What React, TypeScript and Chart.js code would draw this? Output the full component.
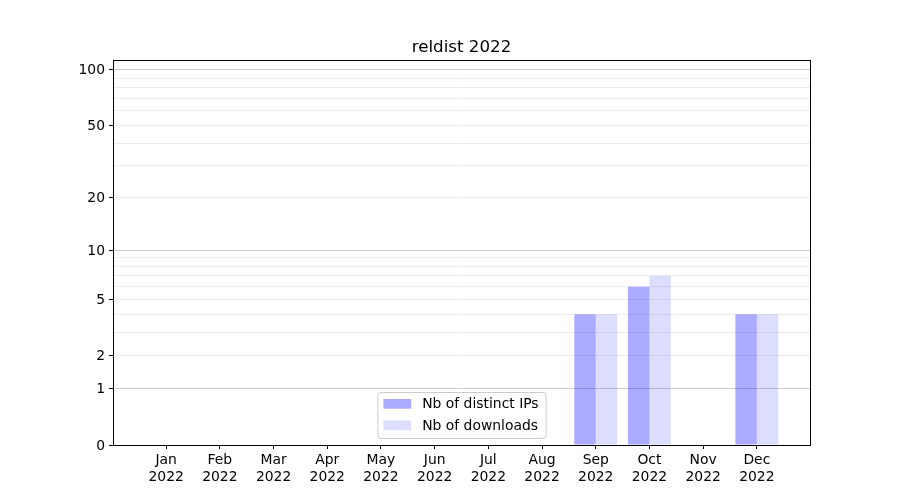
import React, { useEffect, useRef } from "react";
import { Chart, registerables, LinearScale } from "chart.js";

const MONTHS = ["Jan", "Feb", "Mar", "Apr", "May", "Jun", "Jul", "Aug", "Sep", "Oct", "Nov", "Dec"];
const YEAR = "2022";
const DISTINCT_IPS = [0, 0, 0, 0, 0, 0, 0, 0, 4, 6, 0, 4];
const DOWNLOADS = [0, 0, 0, 0, 0, 0, 0, 0, 4, 7, 0, 4];
const Y_LABELED = [0, 1, 2, 5, 10, 20, 50, 100];
const Y_MAJOR_GRID = [1, 10, 100];
const Y_MINOR = [3, 4, 6, 7, 8, 9, 30, 40, 60, 70, 80, 90];
const TITLE = "reldist 2022";
const SERIES_NAMES = ["Nb of distinct IPs", "Nb of downloads"];

const FONT = "'DejaVu Sans', sans-serif";

class Log1pScale extends LinearScale {
  static id = "log1p";
  static defaults = LinearScale.defaults;
  buildTicks() {
    const vals = [...Y_LABELED, ...Y_MINOR].sort((a, b) => a - b);
    return vals.map((v) => ({ value: v }));
  }
  getPixelForValue(v: number) {
    const s = Math.log10(1 + (this as any).min);
    const e = Math.log10(1 + (this as any).max);
    const t = Math.log10(1 + Math.max(0, v));
    return (this as any).getPixelForDecimal((t - s) / (e - s));
  }
  getValueForPixel(p: number) {
    const s = Math.log10(1 + (this as any).min);
    const e = Math.log10(1 + (this as any).max);
    const d = (this as any).getDecimalForPixel(p);
    return Math.pow(10, s + d * (e - s)) - 1;
  }
}

Chart.register(...registerables, Log1pScale as any);

const decorPlugin = {
  id: "decor",
  afterDraw(chart: any) {
    const { ctx, chartArea } = chart;
    const { left, right, top, bottom } = chartArea;
    ctx.save();
    // spines
    ctx.strokeStyle = "#000";
    ctx.lineWidth = 1;
    ctx.strokeRect(Math.round(left) + 0.5, Math.round(top) + 0.5, Math.round(right - left), Math.round(bottom - top));
    // title
    ctx.fillStyle = "#000";
    ctx.font = `16.7px ${FONT}`;
    ctx.textAlign = "center";
    ctx.textBaseline = "alphabetic";
    ctx.fillText(TITLE, (left + right) / 2, top - 8.3);
    // legend
    ctx.font = `13.9px ${FONT}`;
    const colors = chart.data.datasets.map((d: any) => d.backgroundColor);
    const tw = Math.max(...SERIES_NAMES.map((n) => ctx.measureText(n).width));
    const w = 7 + 27.8 + 11 + tw + 6;
    const h = 46;
    const bx = (left + right) / 2 - w / 2;
    const by = bottom - 7 - h;
    ctx.beginPath();
    ctx.roundRect(bx + 0.5, by + 0.5, w, h, 3);
    ctx.fillStyle = "rgba(255,255,255,0.8)";
    ctx.fill();
    ctx.strokeStyle = "#cccccc";
    ctx.stroke();
    SERIES_NAMES.forEach((name, i) => {
      const cy = by + 12 + i * 21.5;
      ctx.fillStyle = colors[i];
      ctx.fillRect(bx + 6, cy - 5, 27.8, 9.7);
      ctx.fillStyle = "#000";
      ctx.textAlign = "left";
      ctx.textBaseline = "middle";
      ctx.fillText(name, bx + 6 + 27.8 + 11, cy + 0.5);
    });
    ctx.restore();
  },
};

export default function App() {
  const ref = useRef<HTMLCanvasElement>(null);
  useEffect(() => {
    if (!ref.current) return;
    const chart = new Chart(ref.current, {
      type: "bar",
      data: {
        datasets: [
          {
            label: SERIES_NAMES[0],
            data: DISTINCT_IPS.map((v, i) => ({ x: i, y: v })),
            backgroundColor: "rgba(0,0,255,0.33)",
            borderWidth: 0,
          },
          {
            label: SERIES_NAMES[1],
            data: DOWNLOADS.map((v, i) => ({ x: i, y: v })),
            backgroundColor: "rgba(0,0,255,0.135)",
            borderWidth: 0,
          },
        ],
      },
      options: {
        animation: false,
        responsive: false,
        maintainAspectRatio: false,
        categoryPercentage: 0.8,
        barPercentage: 1.0,
        layout: { padding: { left: 0, right: 90, top: 60, bottom: 0 } },
        plugins: {
          legend: { display: false },
          title: { display: false },
          tooltip: { enabled: false },
        },
        scales: {
          x: {
            type: "linear",
            min: -0.99,
            max: 11.99,
            offset: false,
            afterBuildTicks: (scale: any) => {
              scale.ticks = MONTHS.map((_, i) => ({ value: i }));
            },
            afterFit: (scale: any) => {
              scale.height = 55;
            },
            grid: {
              offset: false,
              drawOnChartArea: false,
              drawTicks: true,
              tickLength: 4,
              tickColor: "#000",
              tickWidth: 1,
            },
            border: { display: false },
            ticks: {
              autoSkip: false,
              maxRotation: 0,
              padding: 3,
              color: "#000",
              font: { family: FONT, size: 13.9, lineHeight: 1.2 },
              callback: (v: any) => [MONTHS[Math.round(v)], YEAR],
            },
          },
          y: {
            type: "log1p" as any,
            min: 0,
            max: 113,
            afterFit: (scale: any) => {
              scale.width = 113;
            },
            grid: {
              drawTicks: true,
              tickLength: 4,
              tickWidth: 1,
              lineWidth: 1,
              color: (ctx: any) => {
                const v = ctx.tick ? ctx.tick.value : null;
                if (v === 0) return "rgba(0,0,0,0)";
                return Y_MAJOR_GRID.includes(v) ? "#cccccc" : "#ededed";
              },
              tickColor: (ctx: any) => {
                const v = ctx.tick ? ctx.tick.value : null;
                return Y_LABELED.includes(v) ? "#000" : "rgba(0,0,0,0)";
              },
            },
            border: { display: false },
            ticks: {
              autoSkip: false,
              padding: 4,
              labelOffset: 1,
              color: "#000",
              font: { family: FONT, size: 13.9 },
              callback: (v: any) => (Y_LABELED.includes(v) ? String(v) : ""),
            },
          },
        },
      } as any,
      plugins: [decorPlugin],
    });
    return () => chart.destroy();
  }, []);
  return (
    <div style={{ position: "fixed", left: 0, top: 0, width: 900, height: 500, background: "#fff" }}>
      <canvas ref={ref} width={900} height={500} style={{ display: "block" }} />
    </div>
  );
}
